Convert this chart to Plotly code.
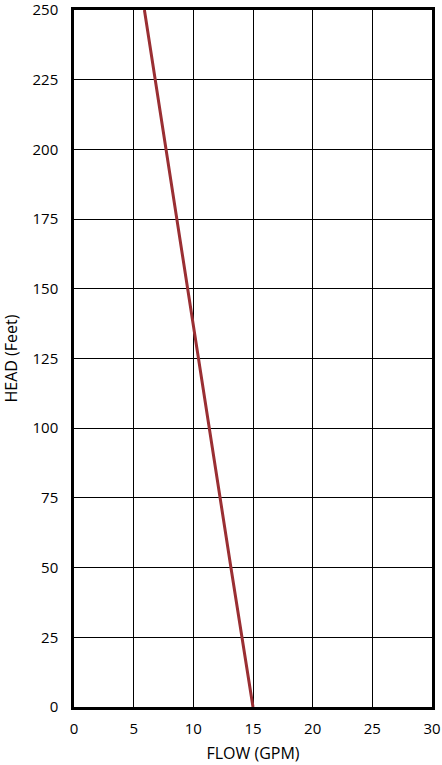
import plotly.graph_objects as go

flow_gpm = [5.9, 7.7, 10.4, 13.15, 15.0]
head_ft = [250, 200, 125, 50, 0]
x_ticks = [0, 5, 10, 15, 20, 25, 30]
y_ticks = [0, 25, 50, 75, 100, 125, 150, 175, 200, 225, 250]

fig = go.Figure()
fig.add_trace(go.Scatter(x=flow_gpm, y=head_ft, mode="lines",
                         line=dict(color="#9a2f33", width=3), showlegend=False))

tick_font = dict(family="Open Sans, Lato, sans-serif", size=15, color="black")
title_font = dict(family="Open Sans, Lato, sans-serif", size=16, color="black")
fig.update_layout(
    width=442, height=765,
    margin=dict(l=74, r=10, t=10, b=58),
    plot_bgcolor="white", paper_bgcolor="white",
    font=tick_font,
    xaxis=dict(range=[0, 30], tickvals=x_ticks, showgrid=True, gridcolor="black", gridwidth=1,
               showline=True, linecolor="black", linewidth=2.5, mirror=True,
               zeroline=False, ticks="", ticklabelstandoff=6, ticklabeloverflow="allow",
               tickfont=tick_font, automargin=False,
               title=dict(text="FLOW (GPM)", standoff=12, font=title_font)),
    yaxis=dict(range=[0, 250], tickvals=y_ticks, showgrid=True, gridcolor="black", gridwidth=1,
               showline=True, linecolor="black", linewidth=2.5, mirror=True,
               zeroline=False, ticks="", ticklabelstandoff=10, ticklabeloverflow="allow",
               tickfont=tick_font, automargin=False,
               title=dict(text="HEAD (Feet)", standoff=16, font=title_font)),
)
fig.write_html("out.html", config={"displayModeBar": False},
               post_script="document.body.style.margin='0';document.body.style.overflow='hidden';")
